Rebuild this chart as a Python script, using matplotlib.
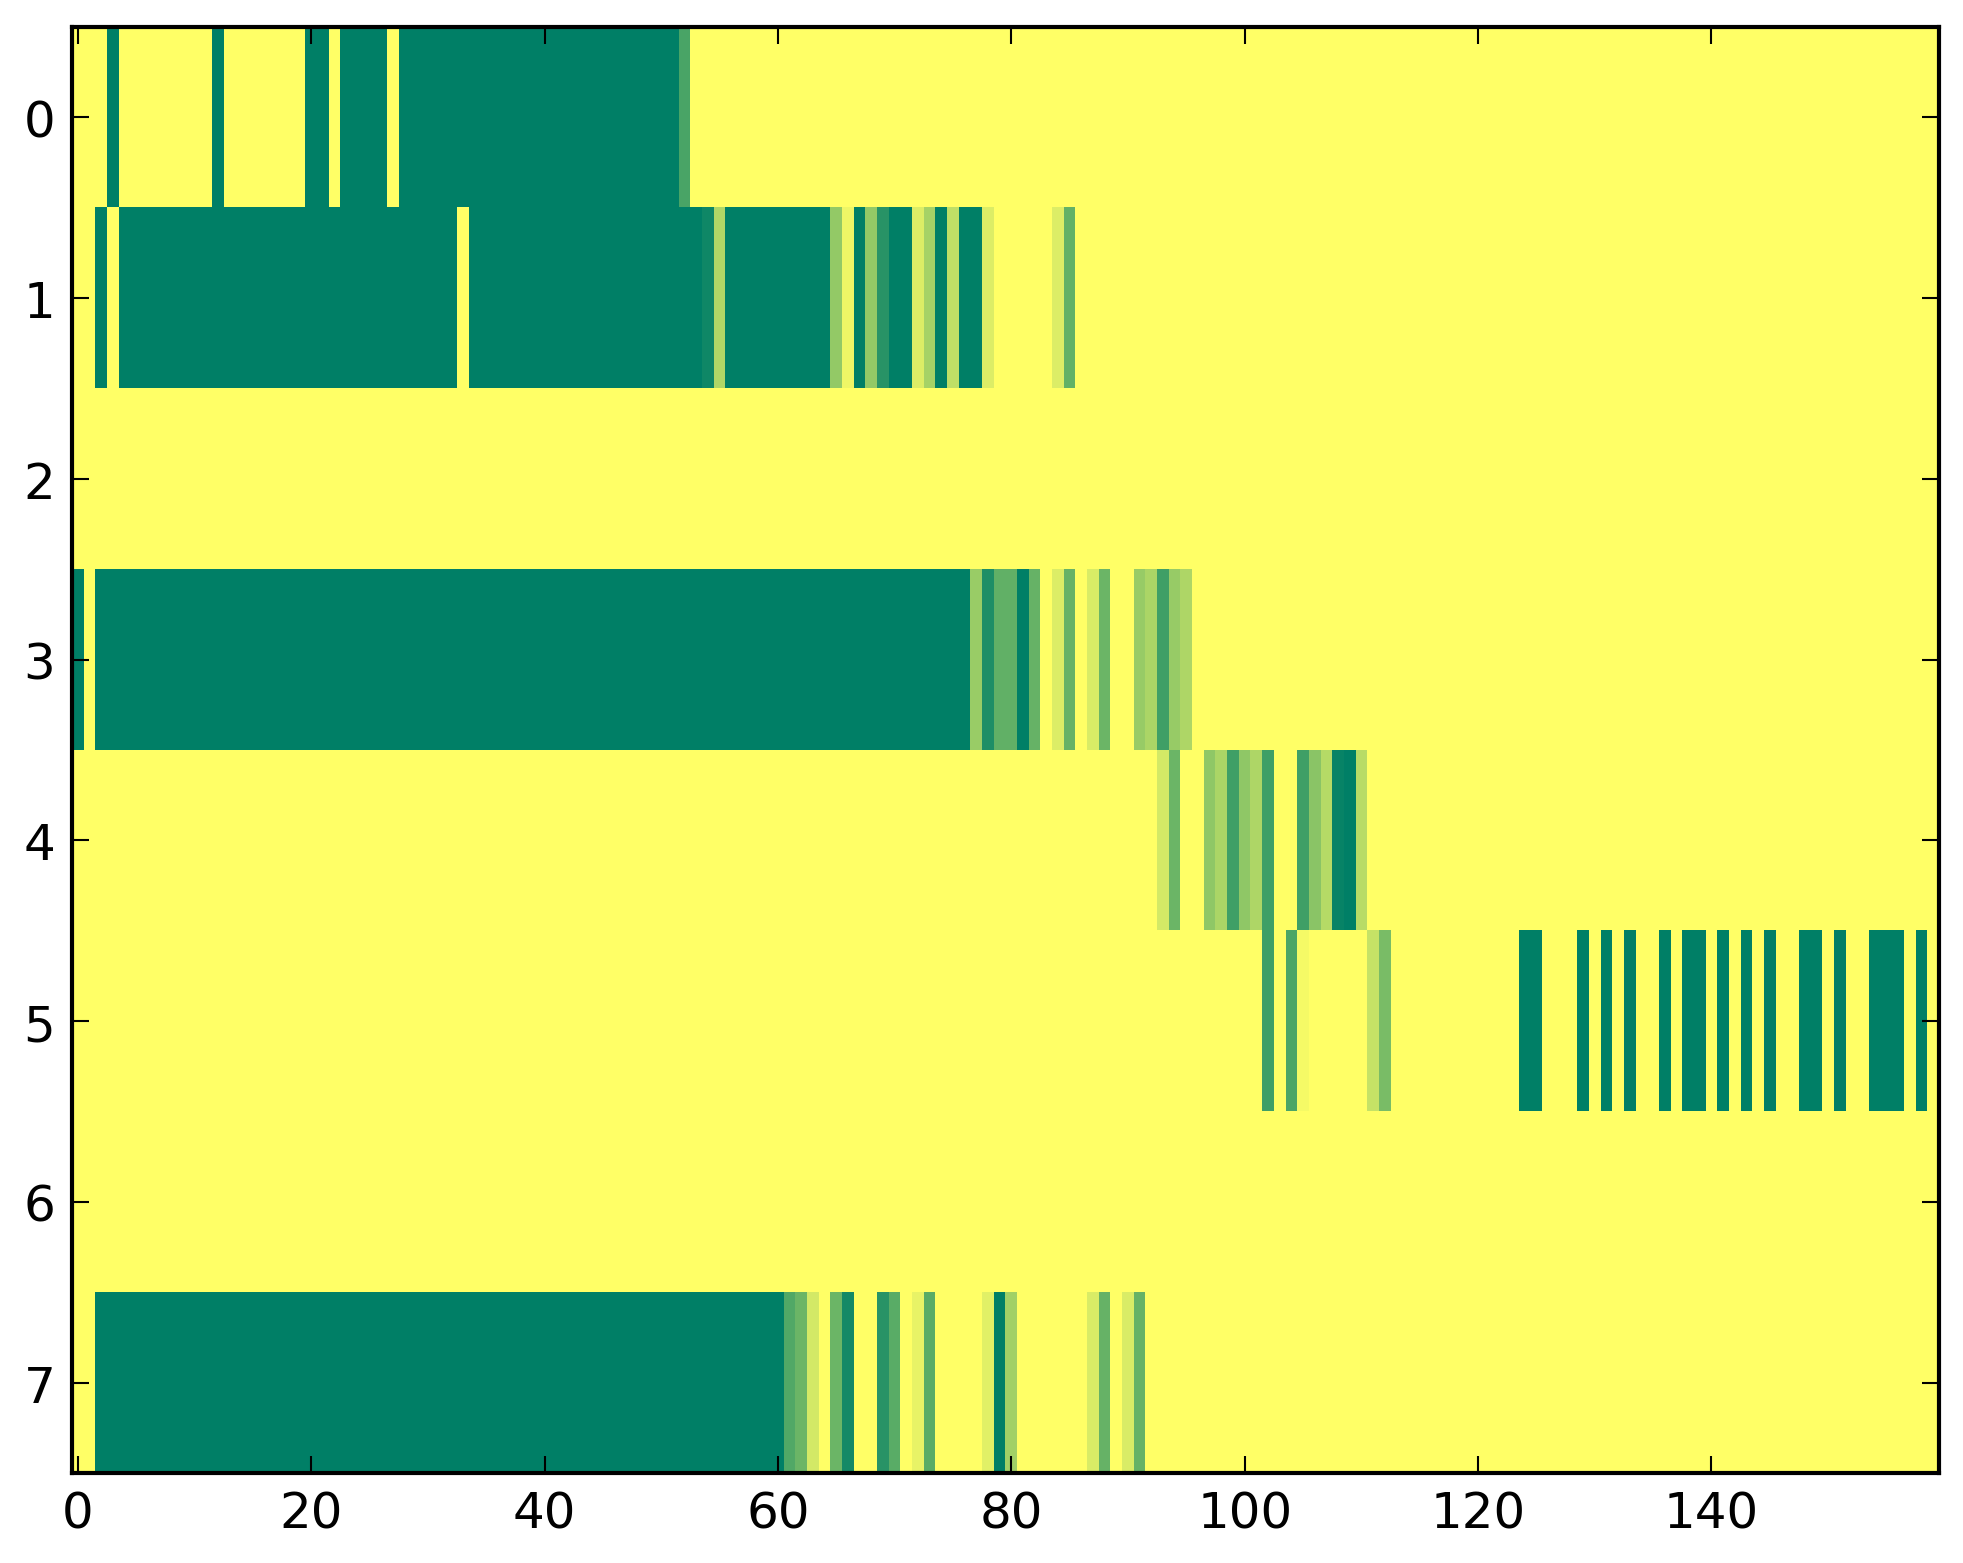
import matplotlib
matplotlib.use('Agg')
import matplotlib.pyplot as plt
import numpy as np

n_rows = 8
n_cols = 160

# nonzero runs per row: (first column, last column, value)
row_0 = [(3, 3, 1.0), (12, 12, 1.0), (20, 21, 1.0), (23, 26, 1.0),
         (28, 51, 1.0), (52, 52, 0.71)]
row_1 = [(2, 2, 1.0), (4, 32, 1.0), (34, 53, 1.0), (54, 54, 0.94),
         (55, 55, 0.31), (56, 64, 1.0), (65, 65, 0.42), (66, 66, 0.07),
         (67, 67, 1.0), (68, 68, 0.42), (69, 69, 0.84), (70, 71, 1.0),
         (72, 72, 0.14), (73, 73, 0.35), (74, 74, 1.0), (75, 75, 0.25),
         (76, 77, 1.0), (78, 78, 0.14), (84, 84, 0.14), (85, 85, 0.61)]
row_2 = []
row_3 = [(0, 0, 1.0), (2, 76, 1.0), (77, 77, 0.40), (78, 78, 0.88),
         (79, 80, 0.62), (81, 81, 1.0), (82, 82, 0.60), (84, 84, 0.14),
         (85, 85, 0.60), (87, 87, 0.15), (88, 88, 0.58), (91, 91, 0.41),
         (92, 92, 0.33), (93, 93, 0.75), (94, 94, 0.41), (95, 95, 0.32)]
row_4 = [(93, 93, 0.17), (94, 94, 0.58), (97, 97, 0.44), (98, 98, 0.33),
         (99, 99, 0.75), (100, 100, 0.44), (101, 101, 0.32), (102, 102, 0.75),
         (105, 105, 0.75), (106, 106, 0.46), (107, 107, 0.29),
         (108, 108, 0.97), (109, 109, 1.0), (110, 110, 0.28)]
row_5 = [(102, 102, 0.75), (104, 104, 0.70), (105, 105, 0.04),
         (111, 111, 0.23), (112, 112, 0.52), (124, 125, 1.0), (129, 129, 1.0),
         (131, 131, 1.0), (133, 133, 1.0), (136, 136, 1.0), (138, 139, 1.0),
         (141, 141, 1.0), (143, 143, 1.0), (145, 145, 1.0), (148, 149, 1.0),
         (151, 151, 1.0), (154, 156, 1.0), (158, 158, 1.0)]
row_6 = []
row_7 = [(2, 60, 1.0), (61, 61, 0.68), (62, 62, 0.58), (63, 63, 0.17),
         (65, 65, 0.58), (66, 66, 0.92), (69, 69, 0.84), (70, 70, 0.65),
         (72, 72, 0.09), (73, 73, 0.65), (78, 78, 0.12), (79, 79, 1.0),
         (80, 80, 0.37), (87, 87, 0.15), (88, 88, 0.60), (90, 90, 0.15),
         (91, 91, 0.60)]

rows = [row_0, row_1, row_2, row_3, row_4, row_5, row_6, row_7]

data = np.zeros((n_rows, n_cols))
for r, runs in enumerate(rows):
    for a, b, v in runs:
        data[r, a:b + 1] = v

plt.rcParams['font.family'] = ['DejaVu Sans']
plt.rcParams['font.size'] = 12
plt.rcParams['xtick.direction'] = 'in'
plt.rcParams['ytick.direction'] = 'in'
plt.rcParams['xtick.top'] = True
plt.rcParams['ytick.right'] = True
plt.rcParams['xtick.major.size'] = 4
plt.rcParams['ytick.major.size'] = 4
plt.rcParams['xtick.major.width'] = 0.5
plt.rcParams['ytick.major.width'] = 0.5
plt.rcParams['xtick.major.pad'] = 4
plt.rcParams['ytick.major.pad'] = 4
plt.rcParams['axes.linewidth'] = 1.0

fig = plt.figure(figsize=(1963 / 300, 1564 / 300), dpi=300)
ax = fig.add_axes([72 / 1963, 1 - 1474 / 1564, (1939 - 72) / 1963, (1474 - 28) / 1564])
ax.imshow(data, cmap='summer_r', aspect='auto', interpolation='nearest',
          vmin=0, vmax=1)
ax.set_xticks(np.arange(0, 141, 20))
ax.set_yticks(np.arange(0, 8))

fig.savefig('out.png', dpi=300)
